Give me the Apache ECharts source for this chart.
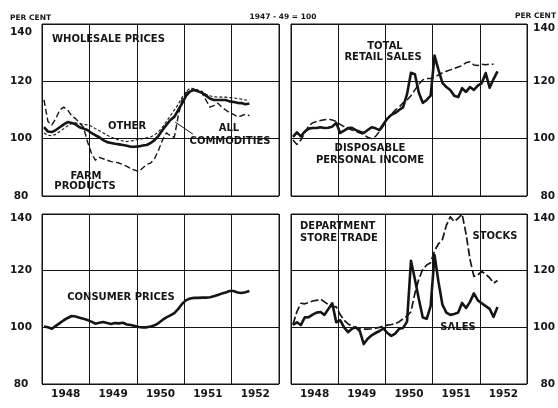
<!DOCTYPE html>
<html>
<head>
<meta charset="utf-8">
<script src="https://cdn.jsdelivr.net/npm/echarts@6/dist/echarts.min.js"></script>
<style>html,body{margin:0;padding:0;background:#fff}#c{width:558px;height:408px}</style>
</head>
<body>
<div id="c"></div>
<script>
// Monthly values, index 0 = Jan 1948 (1947-49 = 100)
const yearLabels = ['1948', '1949', '1950', '1951', '1952'];
const yTicks = [80, 100, 120, 140];

const wholesaleAll = [104,102.5,102.3,103,104,105,105.8,105.5,105,104,103.5,103,
  102,101.2,100.5,99.5,98.8,98.5,98.2,98,97.8,97.5,97.2,97.2,
  97.3,97.6,97.8,98.5,99.5,101,103,104.8,106.5,107.6,110,112.4,
  115,116.5,117,116.5,116,115,114,113.5,113.5,113.5,113.5,113,
  112.8,112.5,112.4,112,112.3];
const wholesaleOther = [102,101.2,101,101.5,102.5,103.5,104.5,105.3,105.5,105.3,105,104.8,
  104.3,103.5,102.8,102,101.2,100.5,100,99.5,99.2,99,99.2,99.5,
  99.7,100,100.3,100.6,101.3,102.5,104,106,108,110,112,114.5,
  116.5,117.6,117.5,117,116.5,115.5,115,114.6,114.5,114.5,114.5,114.3,
  114.2,114,113.8,113.5,113.5];
const wholesaleFarm = [113.5,106,104.8,107,110,111,110,108,107,105.5,104,99,
  95,92.5,93.5,93,92.5,92,91.8,91.5,91,90.3,89.5,89,
  88.5,89.8,91,91.5,93,96,99.5,102,101,100.5,108,114,
  116,117,117,116.5,116,113.5,111,111.5,112.4,111,110,109,
  108.5,107.6,108,108.5,108];
const retailSales = [100.6,102.2,100.8,102.5,103.5,103.7,103.7,104,103.7,103.8,104.2,105.5,
  102,102.8,103.7,103.8,103,102.4,102,103,104,103.6,103,105,
  107,108.3,109,110,111,115.5,123,122.5,116,112.5,113.5,115,
  129,124,119.5,118,117,115,114.5,117.6,116.3,118,117,118.5,
  119.4,122.9,117.8,120.8,123.5];
const dispIncome = [99.5,98,99.5,102,104.5,105.5,106,106.3,106.6,106.8,106.5,106,
  105,104.2,103.5,103,102.5,102,101.3,100.5,100,100.8,102.5,104.5,
  107,108.5,110,111,112.5,113.5,115,117,119,120.5,121,121,
  121.5,122.2,123,123.5,124,124.5,125,125.5,126.5,126.8,125.7,125.5,
  126,125.8,126,126];
const consumerPrices = [100.3,100,99.5,100.5,101.5,102.5,103.3,104,103.8,103.4,103,102.6,
  102,101.3,101.6,101.9,101.5,101.2,101.5,101.4,101.6,101,100.8,100.5,
  100.1,100,100,100.3,100.7,101.5,102.6,103.5,104.2,105,106.5,108.3,
  109.6,110.2,110.4,110.4,110.5,110.5,110.6,111,111.4,111.9,112.3,112.8,
  112.8,112.3,112.1,112.4,112.8];
const deptSales = [100.8,101.8,100.8,103.5,103.6,104.5,105.2,105.4,104.4,106.5,108.5,101.8,
  102.5,100,98.3,99.5,100,98.7,94.1,96,97.2,98,98.7,99.6,
  98,97,97.8,99.5,99.8,102,123.5,117,110,103.5,103,107.5,
  125.5,116,108,105.2,104.4,104.7,105.2,108.6,106.8,109,112,109.5,
  108.5,107.5,106.5,103.7,107.2];
const deptStocks = [101,105.5,108.5,108.3,108.8,109.3,109.5,110,109,108,107.3,107.2,
  104.5,102.5,101.2,100.5,99.8,99.6,99.4,99.4,99.5,99.7,100,100.5,
  100.8,101,101.3,102,103,104,105.5,112,117,120.5,122,122.8,
  127,129.5,131,136,139,137.3,138.5,140,133,124,118,118.5,
  119.7,118.7,117.5,115.6,116.5];

const pairs = arr => arr.map((v, i) => [i + 0.5, v]);

const FONT = 'DejaVu Sans';
const INK = '#151515';

const grids = [
  {left: 42, top: 24, width: 237, height: 172},
  {left: 291, top: 24, width: 236, height: 172},
  {left: 42, top: 214, width: 237, height: 170},
  {left: 291, top: 214, width: 236, height: 170}
].map(g => Object.assign(g, {show: true, borderColor: INK, borderWidth: 1, backgroundColor: 'transparent'}));

function yAxisFor(gi, side, shift) {
  const base = {fontSize: 10.5, fontWeight: 'bold', color: INK, fontFamily: FONT};
  return {
    gridIndex: gi, type: 'value', min: yTicks[0], max: yTicks[yTicks.length - 1], interval: 20,
    position: side,
    axisLine: {show: false}, axisTick: {show: false},
    splitLine: {show: true, lineStyle: {color: INK, width: 1}},
    axisLabel: Object.assign({}, base, {
      align: side === 'left' ? 'center' : 'right',
      margin: side === 'left' ? 21 : 28,
      formatter: v => v === 140 ? '{t|140}' : String(v),
      rich: {t: Object.assign({}, base, {padding: [shift * 2, 0, 0, 0]})}
    })
  };
}

function xAxisGrid(gi) {
  return {
    gridIndex: gi, type: 'value', min: 0, max: 60, interval: 12,
    axisLine: {show: false}, axisTick: {show: false}, axisLabel: {show: false},
    splitLine: {show: true, lineStyle: {color: INK, width: 1}}
  };
}
function xAxisLabels(gi) {
  return {
    gridIndex: gi, type: 'value', min: 0, max: 60, interval: 6, position: 'bottom',
    axisLine: {show: false}, axisTick: {show: false}, splitLine: {show: false},
    axisLabel: {
      margin: 5, fontSize: 10.5, fontWeight: 'bold', color: INK, fontFamily: FONT,
      formatter: v => ((v / 6) % 2 === 1) ? yearLabels[(v - 6) / 12] : ''
    }
  };
}

function line(data, xi, yi, style) {
  return {
    type: 'line', xAxisIndex: xi, yAxisIndex: yi, data: pairs(data),
    symbol: 'none', smooth: false, silent: true, animation: false,
    lineStyle: Object.assign({color: INK, width: 2.6, cap: 'butt', join: 'round'}, style)
  };
}

const THICK = {width: 2.6};
const FARM = {width: 1.4, type: [6, 3]};
const OTHER = {width: 1.1, type: [3, 2]};
const DPI = {width: 1.5, type: [7, 3]};
const STOCK = {width: 1.7, type: [8, 3]};

const allSeries = line(wholesaleAll, 0, 0, THICK);
allSeries.markLine = {
  silent: true, symbol: ['none', 'none'], label: {show: false},
  lineStyle: {color: INK, width: 1, type: 'solid'},
  data: [[{coord: [33.7, 105.8]}, {coord: [38.2, 101.6]}]]
};

function txt(x, y, text, size, align) {
  return {
    type: 'text', x: x, y: y, silent: true,
    style: {text: text, fill: INK, font: 'bold ' + size + 'px "' + FONT + '"',
      align: align || 'center', verticalAlign: 'middle'}
  };
}

const option = {
  animation: false,
  backgroundColor: '#fff',
  grid: grids,
  xAxis: [xAxisGrid(0), xAxisGrid(1), xAxisGrid(2), xAxisGrid(3), xAxisLabels(2), xAxisLabels(3)],
  yAxis: [yAxisFor(0, 'left', 8), yAxisFor(1, 'right', 4), yAxisFor(2, 'left', 4), yAxisFor(3, 'right', 4)],
  series: [
    line(wholesaleFarm, 0, 0, FARM),
    line(wholesaleOther, 0, 0, OTHER),
    allSeries,
    line(dispIncome, 1, 1, DPI),
    line(retailSales, 1, 1, THICK),
    line(consumerPrices, 2, 2, THICK),
    line(deptStocks, 3, 3, STOCK),
    line(deptSales, 3, 3, THICK)
  ],
  graphic: [
    txt(10, 18, 'PER CENT', 7.5, 'left'),
    txt(283, 17, '1947 - 49 = 100', 7.5),
    txt(556, 16, 'PER CENT', 7.5, 'right'),
    txt(52, 39, 'WHOLESALE PRICES', 10, 'left'),
    txt(127, 126, 'OTHER', 10),
    txt(86, 176, 'FARM', 10),
    txt(85, 186, 'PRODUCTS', 10),
    txt(229, 128, 'ALL', 10),
    txt(230, 141, 'COMMODITIES', 10),
    txt(385, 46, 'TOTAL', 10),
    txt(383, 57, 'RETAIL SALES', 10),
    txt(370, 148, 'DISPOSABLE', 10),
    txt(370, 160, 'PERSONAL INCOME', 10),
    txt(121, 297, 'CONSUMER PRICES', 10),
    txt(300, 226, 'DEPARTMENT', 10, 'left'),
    txt(300, 238, 'STORE TRADE', 10, 'left'),
    txt(495, 236, 'STOCKS', 10),
    txt(458, 327, 'SALES', 10)
  ]
};

const chart = echarts.init(document.getElementById('c'), null, {renderer: 'canvas'});
chart.setOption(option);
</script>
</body>
</html>
